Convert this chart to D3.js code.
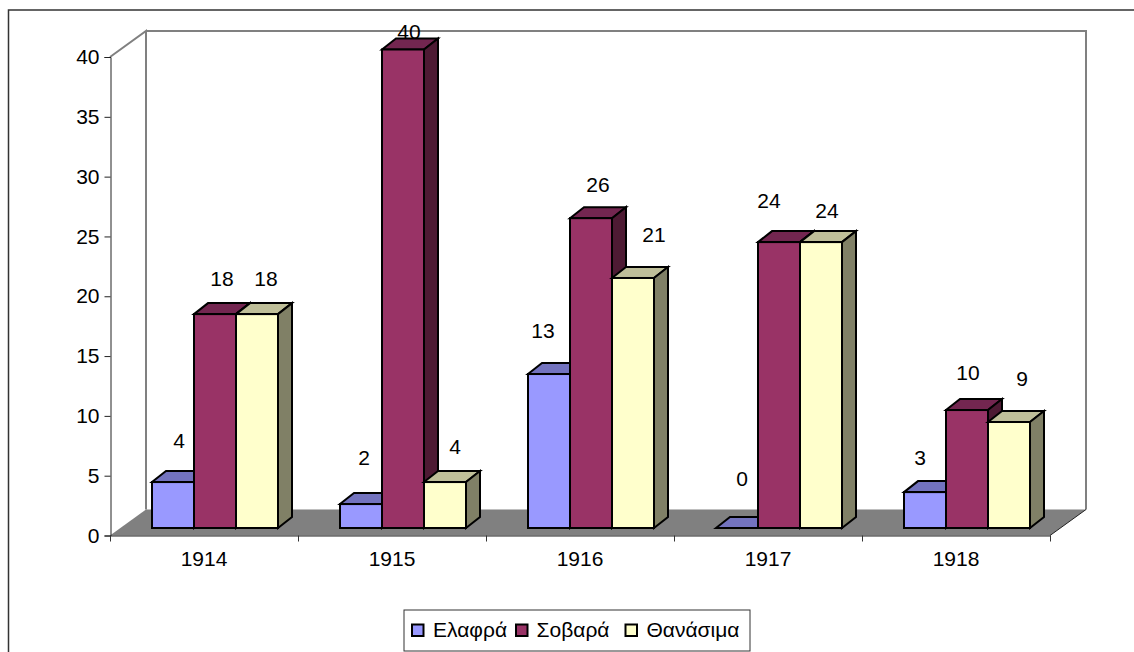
<!DOCTYPE html>
<html><head><meta charset="utf-8">
<script src="https://cdn.jsdelivr.net/npm/d3@7"></script>
<style>html,body{margin:0;padding:0;background:#fff}svg{display:block}text{font-family:"Liberation Sans",Arial,sans-serif;fill:#000}</style>
</head><body><svg id="c" width="1134" height="652"></svg>
<script>
const years = ["1914","1915","1916","1917","1918"];
const seriesNames = ["Ελαφρά","Σοβαρά","Θανάσιμα"];
const elafra   = [3.84, 2, 12.87, 0, 3];
const sovara   = [17.88, 40, 25.9, 23.9, 9.86];
const thanasima= [17.88, 3.84, 20.9, 23.9, 8.86];
const yTicks = [0,5,10,15,20,25,30,35,40];
const fills = ["#9999FF","#993366","#FFFFCC"];
const tops  = ["#7373BF","#732650","#BFBF99"];
const sides = ["#4D4D80","#4D1A33","#808066"];
// label nudges relative to bar-top centre, by category then series
const labelDx = [[6,7,9],[3,6,10],[-6,7,21],[5,-10,6],[-5,1,13]];
const labelDy = [[-41,-35,-35],[-46,-18,-35],[-43,-33,-43],[-49,-41,-31],[-34,-37,-43]];

const svg = d3.select("#c");
const FS = "21px";
const x = d3.scaleBand().domain(years).range([110,1050]);
const y = d3.scaleLinear().domain([0,40]).range([535.5,57]);
const depth = {dx:36, dy:-26}, bd = {dx:14, dy:-11};
const barShiftY = -7.5;
const inner = d3.scaleBand().domain(d3.range(3)).range([0,126]);
const barX = (c,s)=> x(c)+42+inner(s);
const barY = v => y(v)+barShiftY;

// chart frame
svg.append("path").attr("d","M8.5,652V10H1134").attr("fill","none").attr("stroke","#333").attr("stroke-width",1.5);

// walls and floor
const x0=x.range()[0], x1=x.range()[1], yT=y(40), yB=y(0);
svg.append("polygon").attr("points",[[x0,yB],[x0+depth.dx,yB+depth.dy],[x1+depth.dx,yB+depth.dy],[x1,yB]].join(" ")).attr("fill","#808080");
svg.append("path").attr("d",`M${x0},${yT}L${x0+depth.dx},${yT+depth.dy}V${yB+depth.dy}M${x0+depth.dx},${yT+depth.dy}H${x1+depth.dx}V${yB+depth.dy}`)
  .attr("fill","none").attr("stroke","#808080").attr("stroke-width",2);
svg.append("path").attr("d",`M${x1},${yB}L${x1+depth.dx},${yB+depth.dy}`).attr("stroke","#222").attr("stroke-width",1);

// axes
const yAxis = d3.axisLeft(y).tickValues(yTicks).tickSize(6).tickPadding(5);
const gy = svg.append("g").attr("transform",`translate(${x0+.5},0)`).call(yAxis);
const xAxis = d3.axisBottom(x).tickSize(0).tickPadding(16);
const gx = svg.append("g").attr("transform",`translate(0,${yB})`).call(xAxis);
svg.append("g").selectAll("line").data(years.concat("end")).join("line")
  .attr("x1",d=>(d==="end"?x1:x(d))+.5).attr("x2",d=>(d==="end"?x1:x(d))+.5)
  .attr("y1",yB).attr("y2",yB+6).attr("stroke","#333");
[gy,gx].forEach(g=>{g.selectAll("path.domain,line").attr("stroke","#222");g.selectAll("text").style("font-size",FS).style("font-family",'"Liberation Sans"').attr("fill","#000");});

// bars
const all=[elafra,sovara,thanasima];
years.forEach((c,ci)=>{
  all.forEach((vals,s)=>{
    const v=vals[ci], l=barX(c,s), w=inner.bandwidth(), t=barY(v), b=barY(0);
    const g=svg.append("g").attr("stroke","#000").attr("stroke-width",2).attr("stroke-linejoin","miter");
    g.append("polygon").attr("points",[[l,t],[l+bd.dx,t+bd.dy],[l+w+bd.dx,t+bd.dy],[l+w,t]].join(" ")).attr("fill",tops[s]);
    if(v>0){
      g.append("polygon").attr("points",[[l+w,t],[l+w+bd.dx,t+bd.dy],[l+w+bd.dx,b+bd.dy],[l+w,b]].join(" ")).attr("fill",sides[s]);
      g.append("rect").attr("x",l).attr("y",t).attr("width",w).attr("height",b-t).attr("fill",fills[s]);
    }
  });
});
// value labels
years.forEach((c,ci)=>all.forEach((vals,s)=>{
  const v=vals[ci];
  svg.append("text").attr("x",barX(c,s)+inner.bandwidth()/2+labelDx[ci][s]).attr("y",barY(v)+labelDy[ci][s]+7)
    .attr("text-anchor","middle").style("font-size",FS).text(d3.format(".0f")(v));
}));

// legend
const lg=svg.append("g");
lg.append("rect").attr("x",404).attr("y",610).attr("width",346).attr("height",41).attr("fill","#fff").attr("stroke","#333");
const lx=[412,516,625.5], tx=[433,536.5,646.5];
seriesNames.forEach((n,i)=>{
  lg.append("rect").attr("x",lx[i]).attr("y",624.5).attr("width",11.5).attr("height",11.5).attr("fill",fills[i]).attr("stroke","#000").attr("stroke-width",2);
  lg.append("text").attr("x",tx[i]).attr("y",636.5).style("font-size",FS).text(n);
});
</script></body></html>
